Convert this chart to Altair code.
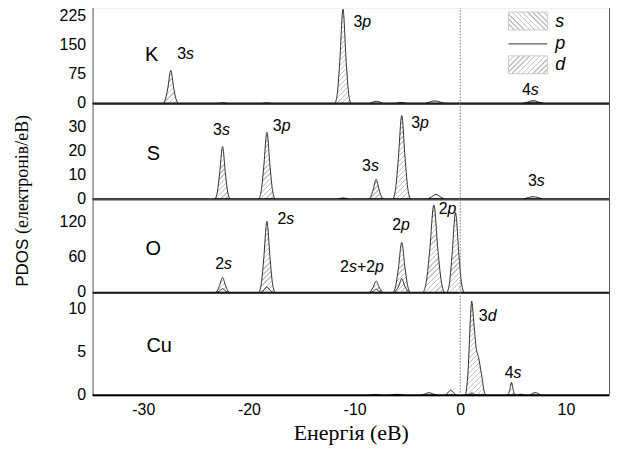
import math
import altair as alt
import pandas as pd

# ---------------- data ----------------
X_DOMAIN = [-34.8, 14.08]
X_TICKS = [-30, -20, -10, 0, 10]
PLOT_WIDTH = 519

PANEL_NAMES = ["K", "S", "O", "Cu"]
Y_DOMAINS = {"K": [0, 250], "S": [0, 40], "O": [0, 160], "Cu": [0, 12]}
Y_TICKS = {"K": [0, 75, 150, 225], "S": [0, 10, 20, 30], "O": [0, 60, 120], "Cu": [0, 5, 10]}
HEIGHTS = {"K": 97, "S": 96, "O": 94, "Cu": 103}

# peaks: (orbital, energies [eV], PDOS values)
K_PEAKS = [
    ("s", [-28.1, -27.9, -27.68, -27.4, -27.12, -26.9, -26.7], [0, 12, 40, 86, 40, 12, 0]),
    ("p", [-11.85, -11.62, -11.4, -11.1, -10.8, -10.58, -10.35], [0, 30, 110, 245, 110, 30, 0]),
    ("s", [-23.0, -22.5, -22.0], [0, 2, 0]),
    ("s", [-18.8, -18.3, -17.8], [0, 2, 0]),
    ("p", [-8.6, -7.95, -7.3], [0, 6, 0]),
    ("p", [-6.2, -5.6, -5.0], [0, 3, 0]),
    ("p", [-3.4, -2.9, -2.4, -1.9, -1.4], [0, 4, 7, 4, 0]),
    ("s", [5.8, 6.4, 6.9, 7.4, 8.0], [0, 4, 8, 4, 0]),
    ("p", [6.0, 6.9, 7.8], [0, 4, 0]),
]
S_PEAKS = [
    ("s", [-23.2, -22.99, -22.78, -22.5, -22.22, -22.01, -21.8], [0, 3, 10.5, 22, 10.5, 3, 0]),
    ("p", [-19.05, -18.82, -18.6, -18.3, -18.0, -17.78, -17.55], [0, 4, 13.5, 28, 13.5, 4, 0]),
    ("s", [-8.66, -8.45, -8.24, -7.96, -7.68, -7.47, -7.26], [0, 1.2, 4, 8.3, 4, 1.2, 0]),
    ("p", [-6.34, -6.1, -5.86, -5.54, -5.22, -4.98, -4.74], [0, 5, 17, 35, 17, 5, 0]),
    ("p", [-3.1, -2.7, -2.3, -1.9, -1.5], [0, 1, 2, 1, 0]),
    ("s", [6.0, 6.9, 7.8], [0, 1, 0]),
    ("p", [-11.6, -11.1, -10.6], [0, 0.5, 0]),
]
O_PEAKS = [
    ("s", [-23.2, -22.99, -22.78, -22.5, -22.22, -22.01, -21.8], [0, 3.6, 12.5, 26, 12.5, 3.6, 0]),
    ("p", [-23.1, -22.74, -22.5, -22.26, -21.9], [0, 3.4, 7, 3.4, 0]),
    ("s", [-19.05, -18.82, -18.6, -18.3, -18.0, -17.78, -17.55], [0, 17, 58, 122, 58, 17, 0]),
    ("p", [-18.9, -18.54, -18.3, -18.06, -17.7], [0, 5, 10, 5, 0]),
    ("s", [-8.66, -8.45, -8.24, -7.96, -7.68, -7.47, -7.26], [0, 2.8, 9.6, 20, 9.6, 2.8, 0]),
    ("p", [-8.5, -8.2, -7.96, -7.72, -7.4], [0, 3, 6, 3, 0]),
    ("p", [-6.34, -6.1, -5.86, -5.54, -5.22, -4.98, -4.74], [0, 12, 41, 86, 41, 12, 0]),
    ("s", [-6.24, -5.82, -5.54, -5.26, -4.84], [0, 11.5, 24, 11.5, 0]),
    ("p", [-3.5, -3.2, -2.9, -2.5, -2.1, -1.8, -1.5], [0, 20, 70, 150, 70, 20, 0]),
    ("p", [-1.25, -1.0, -0.77, -0.45, -0.13, 0.1, 0.35], [0, 19, 66, 137, 66, 19, 0]),
]
CU_PEAKS = [
    ("d", [0.5, 0.75, 0.95, 1.08, 1.3, 1.5, 1.74, 2.0, 2.3, 2.45], [0, 3, 8.7, 11.0, 8.3, 5.6, 4.4, 2.5, 0.3, 0]),
    ("p", [0.8, 1.1, 1.4], [0, 0.25, 0]),
    ("s", [4.4, 4.58, 4.7, 4.85, 5.0, 5.12, 5.3], [0, 0.2, 0.7, 1.5, 0.7, 0.2, 0]),
    ("p", [-3.7, -3.3, -2.97, -2.6, -2.2], [0, 0.15, 0.3, 0.15, 0]),
    ("p", [-1.4, -1.15, -0.9, -0.65, -0.4], [0, 0.3, 0.6, 0.3, 0]),
    ("s", [5.4, 5.7, 6.0], [0, 0.12, 0]),
    ("p", [6.6, 7.1, 7.6], [0, 0.3, 0]),
    ("p", [-8.5, -8.0, -7.5], [0, 0.08, 0]),
    ("p", [-6.6, -6.0, -5.4], [0, 0.1, 0]),
]
PEAKS = {"K": K_PEAKS, "S": S_PEAKS, "O": O_PEAKS, "Cu": CU_PEAKS}

# peak annotations: (text, energy, value)
LABELS = {
    "K": [("3s", -26.0, 128), ("3p", -9.27, 211), ("4s", 6.64, 36)],
    "S": [("3s", -22.6, 28.8), ("3p", -16.9, 30.8), ("3s", -8.5, 13.8), ("3p", -3.8, 31.7), ("3s", 7.2, 7.5)],
    "O": [("2s", -22.4, 49), ("2s", -16.5, 126), ("2s+2p", -9.3, 44), ("2p", -5.6, 116), ("2p", -1.2, 143)],
    "Cu": [("3d", 2.6, 9.3), ("4s", 5.0, 2.6)],
}
# element name positions: (energy, value)
NAME_POS = {"K": (-29.2, 126), "S": (-29.05, 18.8), "O": (-29.05, 75), "Cu": (-28.5, 5.8)}

# ---------------- styling ----------------
SANS = "Liberation Sans"
SERIF = "Liberation Serif"
TICK_FS = 16
LABEL_FS = 16
PX_PER_UNIT = PLOT_WIDTH / (X_DOMAIN[1] - X_DOMAIN[0])
CHAR_W = {"s": 0.5, "p": 0.556, "d": 0.556, "+": 0.584}
PLAIN_FILL = "#f3f3f3"
HATCH_COLOR = "#c2c2c2"
HATCH_PERIOD = 3.6   # px between hatch lines
HATCH_LINE = 1.0     # px line width


def hatch(w, h, forward=True):
    """Linear-gradient stripes giving a 45-degree hatch in a w x h box."""
    k = (w + h) / (w * w + h * h)
    if forward:   # '/' lines
        x1, y1, x2, y2 = 0, 0, k * w, k * h
    else:         # '\' lines
        x1, y1, x2, y2 = 0, 1, k * w, 1 - k * h
    n = max(1, int(round((w + h) / math.sqrt(2) / HATCH_PERIOD)))
    f = HATCH_LINE / HATCH_PERIOD
    stops = []
    for i in range(n):
        a = i / n
        b = (i + f) / n
        stops += [{"offset": round(a, 5), "color": HATCH_COLOR},
                  {"offset": round(b, 5), "color": HATCH_COLOR},
                  {"offset": round(b, 5), "color": "white"},
                  {"offset": round((i + 1) / n, 5), "color": "white"}]
    return {"gradient": "linear", "x1": x1, "y1": y1, "x2": x2, "y2": y2, "stops": stops}


def xenc(show_axis):
    if show_axis:
        ax = alt.Axis(values=X_TICKS, ticks=False, domain=False, grid=False,
                      labelFontSize=TICK_FS, labelFont=SANS, labelColor="black",
                      labelExpr="'' + datum.value",
                      labelPadding=6, title="Енергія (еВ)", titleFont=SERIF,
                      titleFontSize=22, titleFontWeight="normal", titleColor="black",
                      titlePadding=6)
    else:
        ax = None
    return alt.X("e:Q", scale=alt.Scale(domain=X_DOMAIN, nice=False, zero=False), axis=ax)


def yenc(name):
    ax = alt.Axis(values=Y_TICKS[name], ticks=False, domain=False, grid=False,
                  labelFontSize=TICK_FS, labelFont=SANS, labelColor="black",
                  labelPadding=7, labelOffset=-1, title=None)
    return alt.Y("v:Q", scale=alt.Scale(domain=Y_DOMAINS[name], nice=False), axis=ax,
                 stack=None)


def segments(label):
    segs = []
    for ch in label:
        it = ch.isalpha()
        if segs and segs[-1][1] == it:
            segs[-1][0] += ch
        else:
            segs.append([ch, it])
    return segs


def label_frame(name):
    rows = []
    for text, e, v in LABELS[name]:
        total = sum(CHAR_W.get(c, 0.556) for c in text) * LABEL_FS
        off = -total / 2
        for seg, it in segments(text):
            rows.append({"e": e + off / PX_PER_UNIT, "v": v, "t": seg, "it": it})
            off += sum(CHAR_W.get(c, 0.556) for c in seg) * LABEL_FS
    return pd.DataFrame(rows)


def panel(name, bottom=False):
    X = xenc(bottom)
    Y = yenc(name)
    ypx = HEIGHTS[name] / Y_DOMAINS[name][1]

    layers = []
    for orb, es, vs in PEAKS[name]:
        dfp = pd.DataFrame({"e": es, "v": vs})
        w = (max(es) - min(es)) * PX_PER_UNIT
        h = max(vs) * ypx
        fill = hatch(w, h, forward=True) if h > 7 else PLAIN_FILL
        layers.append(alt.Chart(dfp).mark_area(
            interpolate="monotone", fill=fill, stroke="#1a1a1a", strokeWidth=0.9
        ).encode(x=X, y=Y))

    base = alt.Chart(pd.DataFrame({"v": [0]})).mark_rule(
        color="black", strokeWidth=2
    ).encode(y=Y)

    zero = alt.Chart(pd.DataFrame({"e": [0]})).mark_rule(
        color="#777", strokeWidth=1, strokeDash=[1.5, 1.5]
    ).encode(x=X)

    ldf = label_frame(name)
    lab_n = alt.Chart(ldf).transform_filter("!datum.it").mark_text(
        align="left", baseline="middle", font=SANS, fontSize=LABEL_FS, color="black"
    ).encode(x=X, y=Y, text="t:N")
    lab_i = alt.Chart(ldf).transform_filter("datum.it").mark_text(
        align="left", baseline="middle", font=SANS, fontSize=LABEL_FS,
        fontStyle="italic", color="black"
    ).encode(x=X, y=Y, text="t:N")

    ne, nv = NAME_POS[name]
    nm = alt.Chart(pd.DataFrame({"e": [ne], "v": [nv], "t": [name]})).mark_text(
        align="center", baseline="middle", font=SANS, fontSize=20, color="black"
    ).encode(x=X, y=Y, text="t:N")

    layers += [base, zero, lab_n, lab_i, nm]

    one = pd.DataFrame({"k": [0]})
    if name == "K":
        leg_s = alt.Chart(one).mark_rect(fill=hatch(39, 18, forward=False),
                                         stroke="#c8c8c8", strokeWidth=1).encode(
            x=alt.value(418), x2=alt.value(457), y=alt.value(5), y2=alt.value(23))
        leg_p = alt.Chart(one).mark_rule(color="#333", strokeWidth=1).encode(
            x=alt.value(418), x2=alt.value(457), y=alt.value(37))
        leg_d = alt.Chart(one).mark_rect(fill=hatch(39, 18, forward=True),
                                         stroke="#c8c8c8", strokeWidth=1).encode(
            x=alt.value(418), x2=alt.value(457), y=alt.value(49), y2=alt.value(67))
        txt = []
        for t, yy in [("s", 15), ("p", 37), ("d", 58)]:
            txt.append(alt.Chart(one).mark_text(
                align="left", baseline="middle", font=SANS, fontSize=18,
                fontStyle="italic", color="black"
            ).encode(x=alt.value(465), y=alt.value(yy), text=alt.value(t)))
        layers += [leg_s, leg_p, leg_d] + txt
    if name == "S":
        t1 = alt.Chart(one).mark_text(
            align="left", baseline="middle", angle=270, font=SANS, fontSize=17, color="black"
        ).encode(x=alt.value(-70), y=alt.value(184), text=alt.value("PDOS"))
        t2 = alt.Chart(one).mark_text(
            align="left", baseline="middle", angle=270, font=SERIF, fontSize=18, color="black"
        ).encode(x=alt.value(-70), y=alt.value(131), text=alt.value("(електронів/еВ)"))
        layers += [t1, t2]

    return alt.layer(*layers).properties(width=PLOT_WIDTH, height=HEIGHTS[name])


chart = alt.vconcat(
    panel("K"), panel("S"), panel("O"), panel("Cu", bottom=True),
    spacing=0, bounds="flush"
).properties(
    padding={"left": 5, "top": -3, "right": 0, "bottom": 0}
).configure_view(
    stroke="#555", strokeWidth=1
).configure_axis(labelColor="black")

chart.save("out.html", embed_options={"renderer": "svg", "actions": False})
